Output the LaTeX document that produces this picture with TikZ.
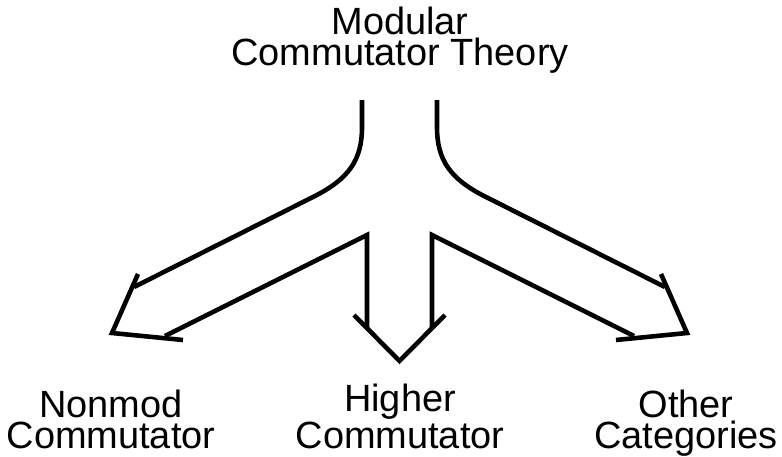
\documentclass[tikz,border=0pt]{standalone}
\usepackage{fontspec}
\setmainfont{Liberation Sans}
\usetikzlibrary{positioning}

\begin{document}
\begin{tikzpicture}[
    x=0.02cm, y=-0.02cm,
    label/.style={align=center, inner sep=0pt, font=\fontsize{21.6}{17.5}\selectfont},
    outline/.style={line width=2.6pt, draw=black}
  ]
    \useasboundingbox (0,0) rectangle (782,457);

    % labels
    \node[label, anchor=base] (modular) at (400,65) {Modular\\Commutator Theory};
    \node[label, anchor=base] (nonmod) at (111,448) {Nonmod\\Commutator};
    \node[label, anchor=base] (higher) at (400,448) {Higher\\Commutator};
    \node[label, anchor=base] (other) at (686,448) {Other\\Categories};

    % left branch
    \draw[outline] (362,100) -- (362,127) .. controls (362,160) and (349,179) .. (313,197) -- (134,287);
    \draw[outline] (138,274) -- (112,333) -- (183,340);
    \draw[outline] (165,336) -- (367,235) -- (367,328);
    % middle branch
    \draw[outline] (354,315) -- (399.5,361) -- (445,315);
    % right branch
    \draw[outline] (432,328) -- (432,235) -- (634,336);
    \draw[outline] (661,274) -- (687,333) -- (616,340);
    \draw[outline] (437,100) -- (437,127) .. controls (437,160) and (450,179) .. (486,197) -- (665,287);
  \end{tikzpicture}
\end{document}
